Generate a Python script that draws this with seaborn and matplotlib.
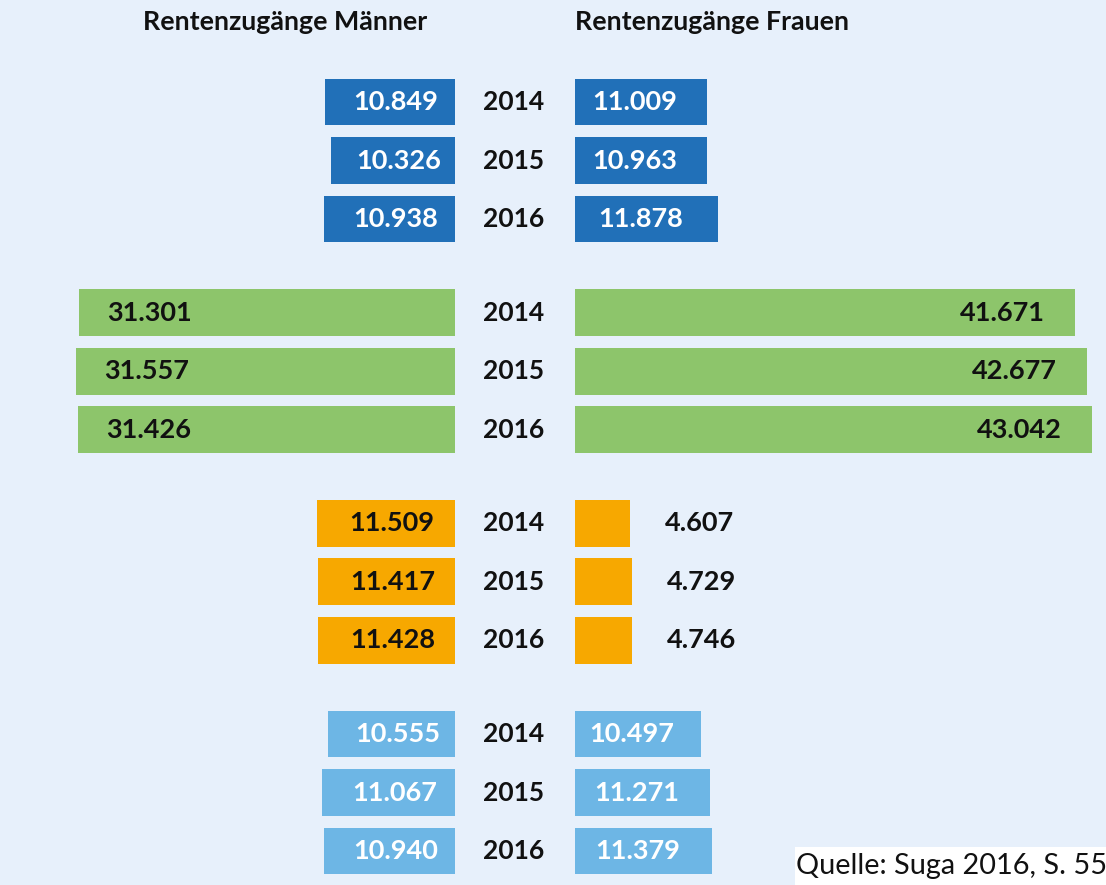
import numpy as np
import pandas as pd
import matplotlib
matplotlib.use("Agg")
import matplotlib.pyplot as plt
from matplotlib.patches import Rectangle
import seaborn as sns

years = ["2014", "2015", "2016"]
groups = ["blau", "gruen", "orange", "hellblau"]

men_blue = [10849, 10326, 10938]
women_blue = [11009, 10963, 11878]
men_green = [31301, 31557, 31426]
women_green = [41671, 42677, 43042]
men_orange = [11509, 11417, 11428]
women_orange = [4607, 4729, 4746]
men_lightblue = [10555, 11067, 10940]
women_lightblue = [10497, 11271, 11379]

colors = {"blau": "#2170B8", "gruen": "#8DC56B", "orange": "#F7A800", "hellblau": "#6DB6E5"}
text_colors = {"blau": "white", "gruen": "#111111", "orange": "#111111", "hellblau": "white"}
bg = "#E7F0FB"

men = [men_blue, men_green, men_orange, men_lightblue]
women = [women_blue, women_green, women_orange, women_lightblue]

rows = []
for g, name in enumerate(groups):
    for i, year in enumerate(years):
        rows.append({"gruppe": name, "jahr": year, "pos": g * 3.6 + i,
                     "maenner": men[g][i], "frauen": women[g][i]})
df = pd.DataFrame(rows)


def fmt(v):
    return f"{v:,}".replace(",", ".")


sns.set_theme(style="white")
plt.rcParams["font.family"] = ["Lato", "DejaVu Sans"]

W, H = 1106, 885
fig = plt.figure(figsize=(W / 100, H / 100), dpi=100)
fig.patch.set_facecolor(bg)

px_per_unit = 0.012  # 12 px per 1000
ylim = (13.38, -1.744)

ax_m = fig.add_axes([0, 0, 455 / W, 1])
ax_w = fig.add_axes([575 / W, 0, (W - 575) / W, 1])

for ax, col in ((ax_m, "maenner"), (ax_w, "frauen")):
    sns.barplot(data=df, x=col, y="pos", hue="gruppe", palette=colors, orient="h",
                native_scale=True, dodge=False, errorbar=None, width=0.8, legend=False,
                saturation=1, linewidth=0, ax=ax)

ax_m.set_xlim(455 / px_per_unit, 0)
ax_w.set_xlim(0, (W - 575) / px_per_unit)
for ax in (ax_m, ax_w):
    ax.set_ylim(*ylim)
    ax.axis("off")

fs = 19.5
for _, r in df.iterrows():
    g = r["gruppe"]
    tc = text_colors[g]
    # Maenner
    if g == "gruen":
        ax_m.annotate(fmt(r["maenner"]), xy=(r["maenner"], r["pos"]), xytext=(28, 0),
                      textcoords="offset pixels", ha="left", va="center",
                      fontsize=fs, fontweight="bold", color=tc)
    else:
        ax_m.annotate(fmt(r["maenner"]), xy=(r["maenner"] / 2, r["pos"]), xytext=(6, 0),
                      textcoords="offset pixels", ha="center", va="center",
                      fontsize=fs, fontweight="bold", color=tc)
    # Frauen
    if g == "gruen":
        ax_w.annotate(fmt(r["frauen"]), xy=(r["frauen"], r["pos"]), xytext=(-30, 0),
                      textcoords="offset pixels", ha="right", va="center",
                      fontsize=fs, fontweight="bold", color=tc)
    elif g == "orange":
        ax_w.annotate(fmt(r["frauen"]), xy=(r["frauen"], r["pos"]), xytext=(35, 0),
                      textcoords="offset pixels", ha="left", va="center",
                      fontsize=fs, fontweight="bold", color=tc)
    else:
        ax_w.annotate(fmt(r["frauen"]), xy=(r["frauen"] / 2, r["pos"]), xytext=(-6, 0),
                      textcoords="offset pixels", ha="center", va="center",
                      fontsize=fs, fontweight="bold", color=tc)
    # Jahr in der Mitte
    ax_w.annotate(r["jahr"], xy=(0, r["pos"]), xytext=(-61, 0), textcoords="offset pixels",
                  ha="center", va="center", fontsize=19, fontweight="bold", color="#111111")

fig.text(143 / W, 1 - 22 / H, "Rentenzugänge Männer", ha="left", va="center",
         fontsize=19.3, fontweight="bold", color="#111111")
fig.text(575 / W, 1 - 22 / H, "Rentenzugänge Frauen", ha="left", va="center",
         fontsize=19.3, fontweight="bold", color="#111111")

fig.add_artist(Rectangle((795 / W, 0), (W - 795) / W, 38 / H, transform=fig.transFigure,
                         facecolor="white", edgecolor="none"))
fig.text(796 / W, 1 - 866 / H, "Quelle: Suga 2016, S. 55", ha="left", va="center",
         fontsize=20.8, color="#111111")

fig.savefig("out.png", dpi=100, facecolor=bg)
